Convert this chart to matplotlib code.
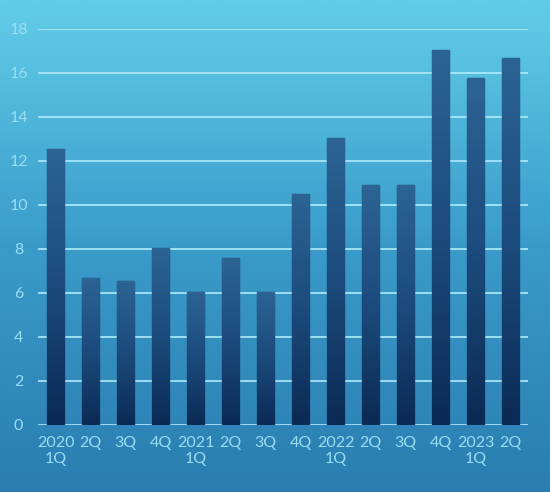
import numpy as np
import matplotlib
matplotlib.use("Agg")
import matplotlib.pyplot as plt
from matplotlib.colors import LinearSegmentedColormap

categories = ["2020\n1Q", "2Q", "3Q", "4Q", "2021\n1Q", "2Q", "3Q",
              "4Q", "2022\n1Q", "2Q", "3Q", "4Q", "2023\n1Q", "2Q"]
values = [12.55, 6.7, 6.55, 8.05, 6.05, 7.6, 6.05,
          10.5, 13.05, 10.9, 10.9, 17.05, 15.75, 16.7]
yticks = [0, 2, 4, 6, 8, 10, 12, 14, 16, 18]

plt.rcParams['font.family'] = ['Lato', 'DejaVu Sans']

fig = plt.figure(figsize=(5.5, 4.92), dpi=100)

# background gradient
bg = fig.add_axes([0, 0, 1, 1], zorder=0)
bg_cmap = LinearSegmentedColormap.from_list("bg", ["#2a7db0", "#3a9bca", "#62cde8"])
grad = np.linspace(0, 1, 256).reshape(-1, 1)
bg.imshow(grad, aspect="auto", cmap=bg_cmap, origin="lower", extent=[0, 1, 0, 1])
bg.set_axis_off()

ax = fig.add_axes([38/550, 67/492, 490/550, 396/492], zorder=1)
ax.patch.set_alpha(0)
x = np.arange(len(categories))
bars = ax.bar(x, values, width=0.49, color="#1d4f80", edgecolor="#1a4772",
              linewidth=1.0, zorder=3)

bar_cmap = LinearSegmentedColormap.from_list("bar", ["#0b2a55", "#1b4b7c", "#2c6494"])
for b in bars:
    x0, y0 = b.get_x(), b.get_y()
    w, h = b.get_width(), b.get_height()
    im = ax.imshow(grad, aspect="auto", cmap=bar_cmap, origin="lower",
                   extent=[x0, x0 + w, y0, y0 + h], zorder=3.5,
                   vmin=0, vmax=1)
    im.set_clip_path(b)

ax.set_xlim(-0.5, len(categories) - 0.5)
ax.set_ylim(0, 18)
ax.set_yticks(yticks)
ax.set_xticks(x)
ax.set_xticklabels(categories)
ax.yaxis.grid(True, color="#b0ebf8", linewidth=1.2, zorder=1)
ax.set_axisbelow(True)
for s in ax.spines.values():
    s.set_visible(False)
ax.tick_params(length=0, labelsize=11.5)
ax.tick_params(axis="y", pad=14)
ax.tick_params(axis="x", pad=8)
for lbl in ax.get_xticklabels() + ax.get_yticklabels():
    lbl.set_color("#98dff2")
for lbl in ax.get_yticklabels():
    lbl.set_horizontalalignment("center")
for lbl in ax.get_xticklabels():
    lbl.set_linespacing(1.15)

fig.savefig("out.png", dpi=100)
